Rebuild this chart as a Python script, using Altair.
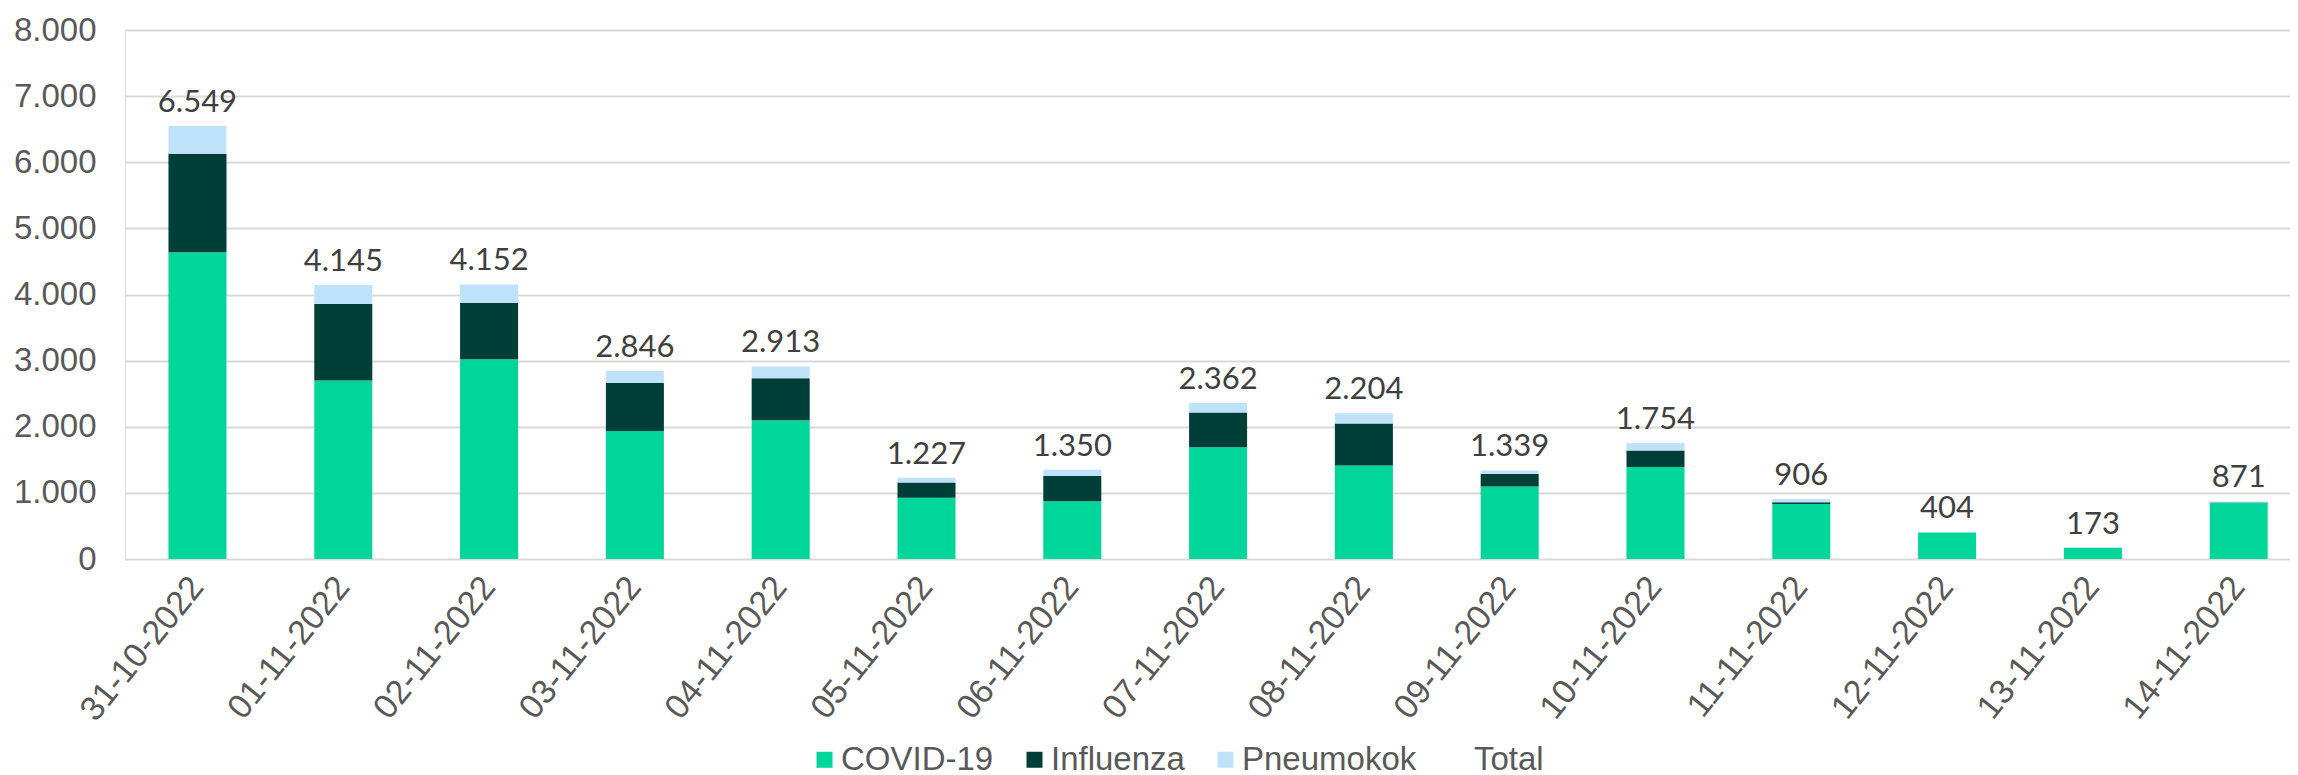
import altair as alt
import pandas as pd

dates = ["31-10-2022", "01-11-2022", "02-11-2022", "03-11-2022", "04-11-2022",
         "05-11-2022", "06-11-2022", "07-11-2022", "08-11-2022", "09-11-2022",
         "10-11-2022", "11-11-2022", "12-11-2022", "13-11-2022", "14-11-2022"]
covid = [4640, 2700, 3020, 1935, 2100, 925, 875, 1690, 1415, 1095, 1390, 830, 400, 171, 845]
influenza = [1490, 1155, 855, 725, 635, 233, 380, 525, 635, 190, 252, 28, 2, 1, 8]
pneumo = [419, 290, 277, 186, 178, 69, 95, 147, 154, 54, 112, 48, 2, 1, 18]
total = [6549, 4145, 4152, 2846, 2913, 1227, 1350, 2362, 2204, 1339, 1754, 906, 404, 173, 871]

series_names = ["COVID-19", "Influenza", "Pneumokok", "Total"]
series_colors = ["#00D59A", "#003F37", "#BFE2FB", "#FFFFFF"]

rows = []
for name, vals, o in [("COVID-19", covid, 0), ("Influenza", influenza, 1), ("Pneumokok", pneumo, 2)]:
    for d, v in zip(dates, vals):
        rows.append({"date": d, "series": name, "value": v, "ord": o})
bars_df = pd.DataFrame(rows)

tot_df = pd.DataFrame({
    "date": dates,
    "total": total,
    "label": [f"{v:,}".replace(",", ".") for v in total],
})

x_scale = alt.Scale(domain=dates, paddingInner=0.602, paddingOuter=0.2255, align=0.661)
y_scale = alt.Scale(domain=[0, 8000], nice=False)

x_axis = alt.Axis(title=None, labelAngle=-51, labelFontSize=34, labelColor="#595959",
                  labelFont="Liberation Sans", ticks=False, domain=False, labelPadding=22,
                  labelLimit=400)
y_axis = alt.Axis(title=None, values=list(range(0, 8001, 1000)),
                  labelExpr="replace(format(datum.value, ','), ',', '.')",
                  labelFontSize=33, labelColor="#595959", labelFont="Liberation Sans",
                  ticks=False, domain=False, labelPadding=29,
                  grid=True, gridColor="#D9D9D9", gridWidth=2)

bars = alt.Chart(bars_df).mark_bar().encode(
    x=alt.X("date:N", scale=x_scale, axis=x_axis, sort=dates),
    y=alt.Y("value:Q", scale=y_scale, axis=y_axis, stack="zero"),
    color=alt.Color("series:N",
                    scale=alt.Scale(domain=series_names, range=series_colors),
                    legend=alt.Legend(title=None, orient="none", direction="horizontal",
                                      legendX=683, legendY=713,
                                      symbolType="square", symbolSize=256,
                                      symbolStrokeWidth=0,
                                      labelFontSize=33, labelColor="#595959",
                                      labelFont="Liberation Sans", labelOffset=0,
                                      labelLimit=400, columnPadding=24)),
    order=alt.Order("ord:Q", sort="ascending"),
)

labels = alt.Chart(tot_df).mark_text(
    baseline="alphabetic", dy=-14, fontSize=31, color="#404040", font="Lato"
).encode(
    x=alt.X("date:N", scale=x_scale, sort=dates),
    y=alt.Y("total:Q", scale=y_scale),
    text="label:N",
)

chart = alt.layer(bars, labels).properties(
    width=2165, height=529,
    padding={"left": 5, "top": 6, "right": 0, "bottom": 0},
).configure_view(stroke=None).configure(background="white")

chart.save("out.html", embed_options={"renderer": "svg", "actions": False})
